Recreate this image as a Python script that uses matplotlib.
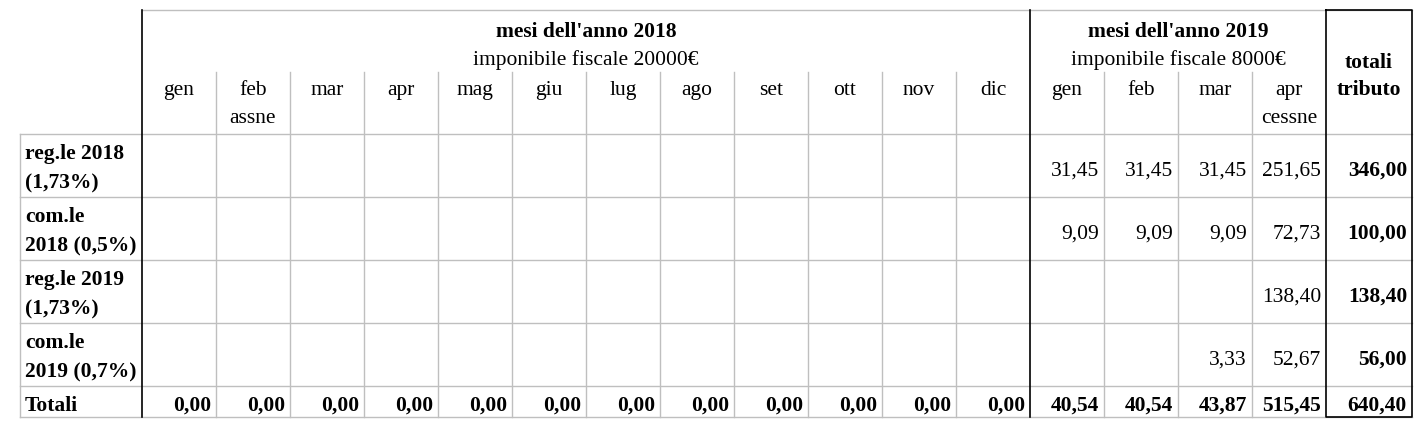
import matplotlib
matplotlib.use("Agg")
import matplotlib.pyplot as plt

# ---- data ----
months_2018 = ["gen", "feb", "mar", "apr", "mag", "giu", "lug", "ago", "set", "ott", "nov", "dic"]
notes_2018 = ["", "assne", "", "", "", "", "", "", "", "", "", ""]
months_2019 = ["gen", "feb", "mar", "apr"]
notes_2019 = ["", "", "", "cessne"]
title_2018 = "mesi dell'anno 2018"
sub_2018 = "imponibile fiscale 20000€"
title_2019 = "mesi dell'anno 2019"
sub_2019 = "imponibile fiscale 8000€"
total_header = ["totali", "tributo"]
row_labels = [["reg.le 2018", "(1,73%)"],
              ["com.le", "2018 (0,5%)"],
              ["reg.le 2019", "(1,73%)"],
              ["com.le", "2019 (0,7%)"]]
# values for 2019 months (2018 cells empty)
reg_2018 = ["31,45", "31,45", "31,45", "251,65"]
com_2018 = ["9,09", "9,09", "9,09", "72,73"]
reg_2019 = ["", "", "", "138,40"]
com_2019 = ["", "", "3,33", "52,67"]
row_totals = ["346,00", "100,00", "138,40", "56,00"]
totali_label = "Totali"
totali_2018 = ["0,00"] * 12
totali_2019 = ["40,54", "40,54", "43,87", "515,45"]
grand_total = "640,40"

# ---- layout ----
W, H = 1420, 427
fig = plt.figure(figsize=(W / 100, H / 100), dpi=100)
ax = fig.add_axes([0, 0, 1, 1])
ax.set_xlim(0, W)
ax.set_ylim(H, 0)
ax.axis("off")

FONT = "Liberation Serif"
FS = 15.5
GRAY = "#bfbfbf"

x_lab = 20
x0 = 142
cw = 74
x19 = x0 + 12 * cw
x_tot = x19 + 4 * cw
x_end = 1412
y_top = 11
y_month = 73
y_data = 135
row_h = 63
y_tot_row = y_data + 4 * row_h
y_end = 418

cols18 = [x0 + i * cw for i in range(12)]
cols19 = [x19 + j * cw for j in range(4)]

# grey lines
for xl in cols18[1:] + cols19[1:]:
    ax.plot([xl, xl], [y_month, y_end], color=GRAY, lw=1)
ax.plot([x0, x_end], [y_top, y_top], color=GRAY, lw=1)
for k in range(5):
    yy = y_data + k * row_h
    ax.plot([x_lab, x_end], [yy, yy], color=GRAY, lw=1)
ax.plot([x_lab, x_end], [y_end, y_end], color=GRAY, lw=1)
ax.plot([x_lab, x_lab], [y_data, y_end], color=GRAY, lw=1)
# black lines
for xl in [x0, x19]:
    ax.plot([xl, xl], [y_top, y_end], color="black", lw=1.2)
ax.plot([x_tot, x_end, x_end, x_tot, x_tot], [y_top, y_top, y_end, y_end, y_top], color="black", lw=1.2)

def T(x, y, s, ha="center", bold=False):
    ax.text(x, y, s, ha=ha, va="baseline", fontsize=FS, family=FONT,
            fontweight="bold" if bold else "normal")

# headers
c18 = (x0 + x19) / 2
c19 = (x19 + x_tot) / 2
T(c18, 37, title_2018, bold=True)
T(c18, 65, sub_2018)
T(c19, 37, title_2019, bold=True)
T(c19, 65, sub_2019)
ctot = (x_tot + x_end) / 2
T(ctot, 68, total_header[0], bold=True)
T(ctot, 95, total_header[1], bold=True)
for i, m in enumerate(months_2018):
    cx = cols18[i] + cw / 2
    T(cx, 95, m)
    if notes_2018[i]:
        T(cx, 123, notes_2018[i])
for j, m in enumerate(months_2019):
    cx = cols19[j] + cw / 2
    T(cx, 95, m)
    if notes_2019[j]:
        T(cx, 123, notes_2019[j])

# data rows
data_rows = [reg_2018, com_2018, reg_2019, com_2019]
pad = 5
for r in range(4):
    ytop = y_data + r * row_h
    T(x_lab + 5, ytop + 24, row_labels[r][0], ha="left", bold=True)
    T(x_lab + 5, ytop + 53, row_labels[r][1], ha="left", bold=True)
    for j, v in enumerate(data_rows[r]):
        if v:
            T(cols19[j] + cw - pad, ytop + 41, v, ha="right")
    T(x_end - pad, ytop + 41, row_totals[r], ha="right", bold=True)

# totals row
yb = y_tot_row + 24
T(x_lab + 5, yb, totali_label, ha="left", bold=True)
for i, v in enumerate(totali_2018):
    T(cols18[i] + cw - pad, yb, v, ha="right", bold=True)
for j, v in enumerate(totali_2019):
    T(cols19[j] + cw - pad, yb, v, ha="right", bold=True)
T(x_end - pad, yb, grand_total, ha="right", bold=True)

fig.savefig("out.png", dpi=100, facecolor="white")
